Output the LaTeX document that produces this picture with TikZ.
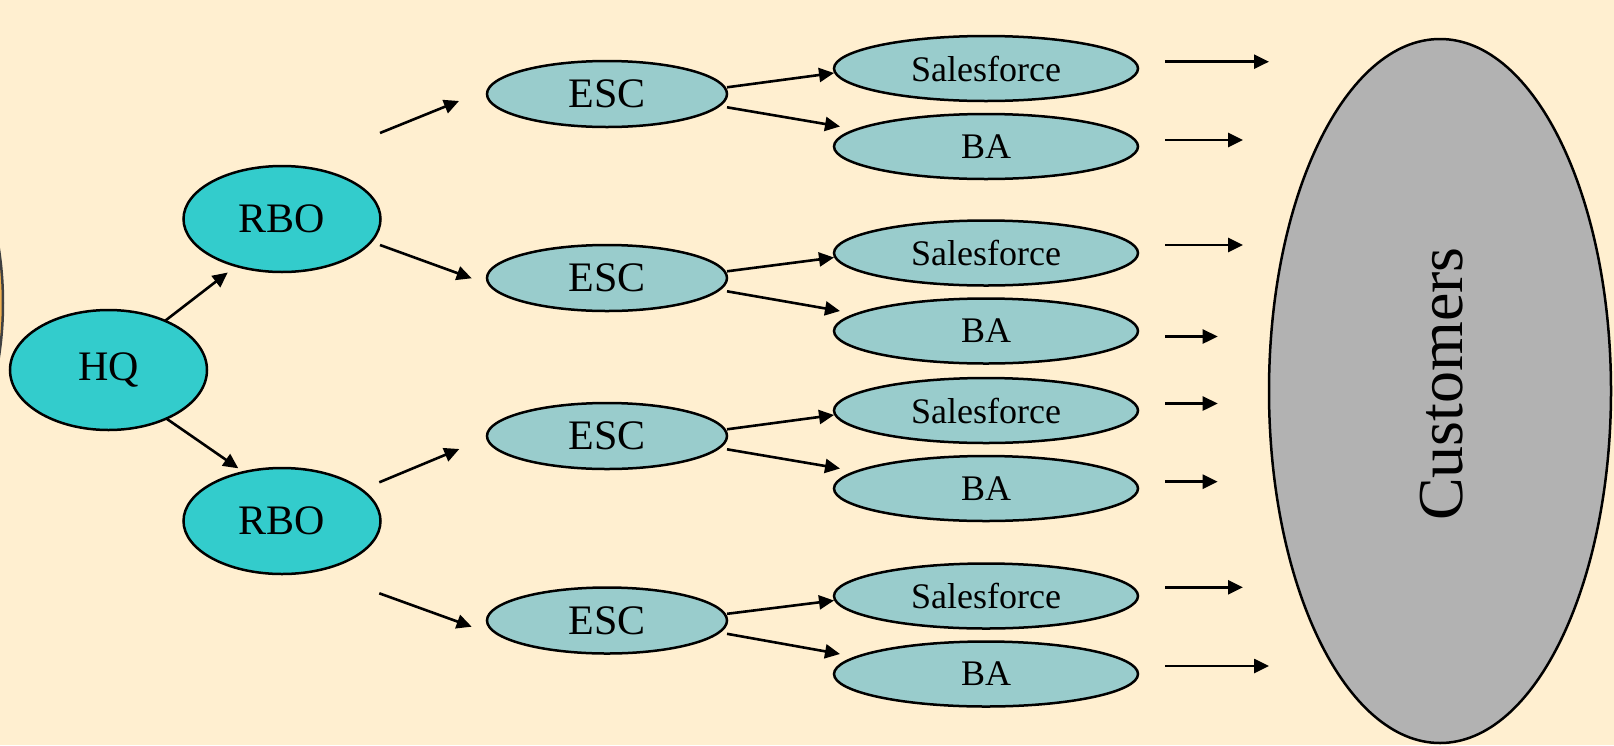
\documentclass[tikz,border=0pt]{standalone}
\usepackage{fontspec}
\setmainfont{Liberation Serif}
\usetikzlibrary{shapes.geometric,arrows.meta,calc}
\definecolor{bg}{HTML}{FFEFD0}
\definecolor{hqfill}{HTML}{33CCCC}
\definecolor{escfill}{HTML}{99CCCC}
\definecolor{custfill}{HTML}{B2B2B2}
\definecolor{sidefill}{HTML}{F0B050}
\definecolor{sideline}{HTML}{404040}
\begin{document}
\begin{tikzpicture}[x=1pt,y=-1pt,
  every node/.style={inner sep=0pt, outer sep=0pt},
  oval/.style={ellipse, draw=black, line width=2.5pt},
  hqbox/.style={oval, fill=hqfill, minimum width=197pt, minimum height=120pt,
    font=\fontsize{42}{48}\selectfont},
  rbobox/.style={oval, fill=hqfill, minimum width=197pt, minimum height=106pt,
    font=\fontsize{42}{48}\selectfont},
  escbox/.style={oval, fill=escfill, minimum width=240pt, minimum height=66pt,
    font=\fontsize{42}{48}\selectfont},
  unitbox/.style={oval, fill=escfill, minimum width=304pt, minimum height=65pt,
    font=\fontsize{36}{42}\selectfont},
  custbox/.style={oval, fill=custfill, minimum width=342pt, minimum height=704pt},
  custlabel/.style={font=\fontsize{64}{72}\selectfont, rotate=90},
  arr/.style={line width=2.6pt, -{Triangle[length=15pt,width=14pt]}}
]
% page and background
\useasboundingbox (0,0) rectangle (1614,745);
\fill[bg] (0,0) rectangle (1614,745);
\clip (0,0) rectangle (1614,745);

% edge of a shape cut off at the left border
\draw[sideline, fill=sidefill, line width=2.5pt] (-97,303) ellipse [x radius=100, y radius=190];

% hierarchy
\node[hqbox] (hq) at (108.5,370) {HQ};
\node[rbobox] (rbo1) at (282,219) {RBO};
\node[rbobox] (rbo2) at (282,521) {RBO};

\node[escbox] (esc1) at (607,94) {ESC};
\node[escbox] (esc2) at (607,278) {ESC};
\node[escbox] (esc3) at (607,436) {ESC};
\node[escbox] (esc4) at (607,620.5) {ESC};

\node[unitbox] (sf1) at (986,68.5) {Salesforce};
\node[unitbox] (ba1) at (986,146.5) {BA};
\node[unitbox] (sf2) at (986,253) {Salesforce};
\node[unitbox] (ba2) at (986,331) {BA};
\node[unitbox] (sf3) at (986,410.5) {Salesforce};
\node[unitbox] (ba3) at (986,488.5) {BA};
\node[unitbox] (sf4) at (986,596) {Salesforce};
\node[unitbox] (ba4) at (986,674) {BA};

\node[custbox] (cust) at (1440,391) {};
\node[custlabel] (custtext) at (1442,384) {Customers};

% HQ to regional offices
\draw[arr] (hq.41) -- ($(rbo1.center)+(-54.3,53.5)$);
\draw[arr] (hq.-40) -- ($(rbo2.center)+(-43.7,-52.7)$);

% regional offices to service centres
\coordinate (r1a) at (380,133);   \coordinate (e1a) at (459,101);
\coordinate (r1b) at (380,245);   \coordinate (e2a) at (471.7,278.3);
\coordinate (r2a) at (379.3,482.3); \coordinate (e3a) at (459.3,449);
\coordinate (r2b) at (379.3,593.3); \coordinate (e4a) at (471.7,626.7);
\draw[arr] (r1a) -- (e1a);
\draw[arr] (r1b) -- (e2a);
\draw[arr] (r2a) -- (e3a);
\draw[arr] (r2b) -- (e4a);

% service centres to salesforce and BA
\foreach \i in {1,2,3,4}{
  \draw[arr] ($(esc\i.east)+(0,-6.7)$) -- ($(sf\i.west)+(0,4.5)$);
  \draw[arr] ($(esc\i.east)+(0,13.3)$) -- ($(ba\i.west)+(6,-20)$);
}

% towards the customers
\foreach \n/\y/\t in {1/61.7/1269, 2/140/1243, 3/245/1243, 4/336.5/1217.7,
                      5/403.5/1217.7, 6/481.7/1217.7, 7/587.3/1243, 8/666/1269}{
  \coordinate (cs\n) at (1165,\y);
  \coordinate (ct\n) at (\t,\y);
  \draw[arr] (cs\n) -- (ct\n);
}
\end{tikzpicture}
\end{document}
